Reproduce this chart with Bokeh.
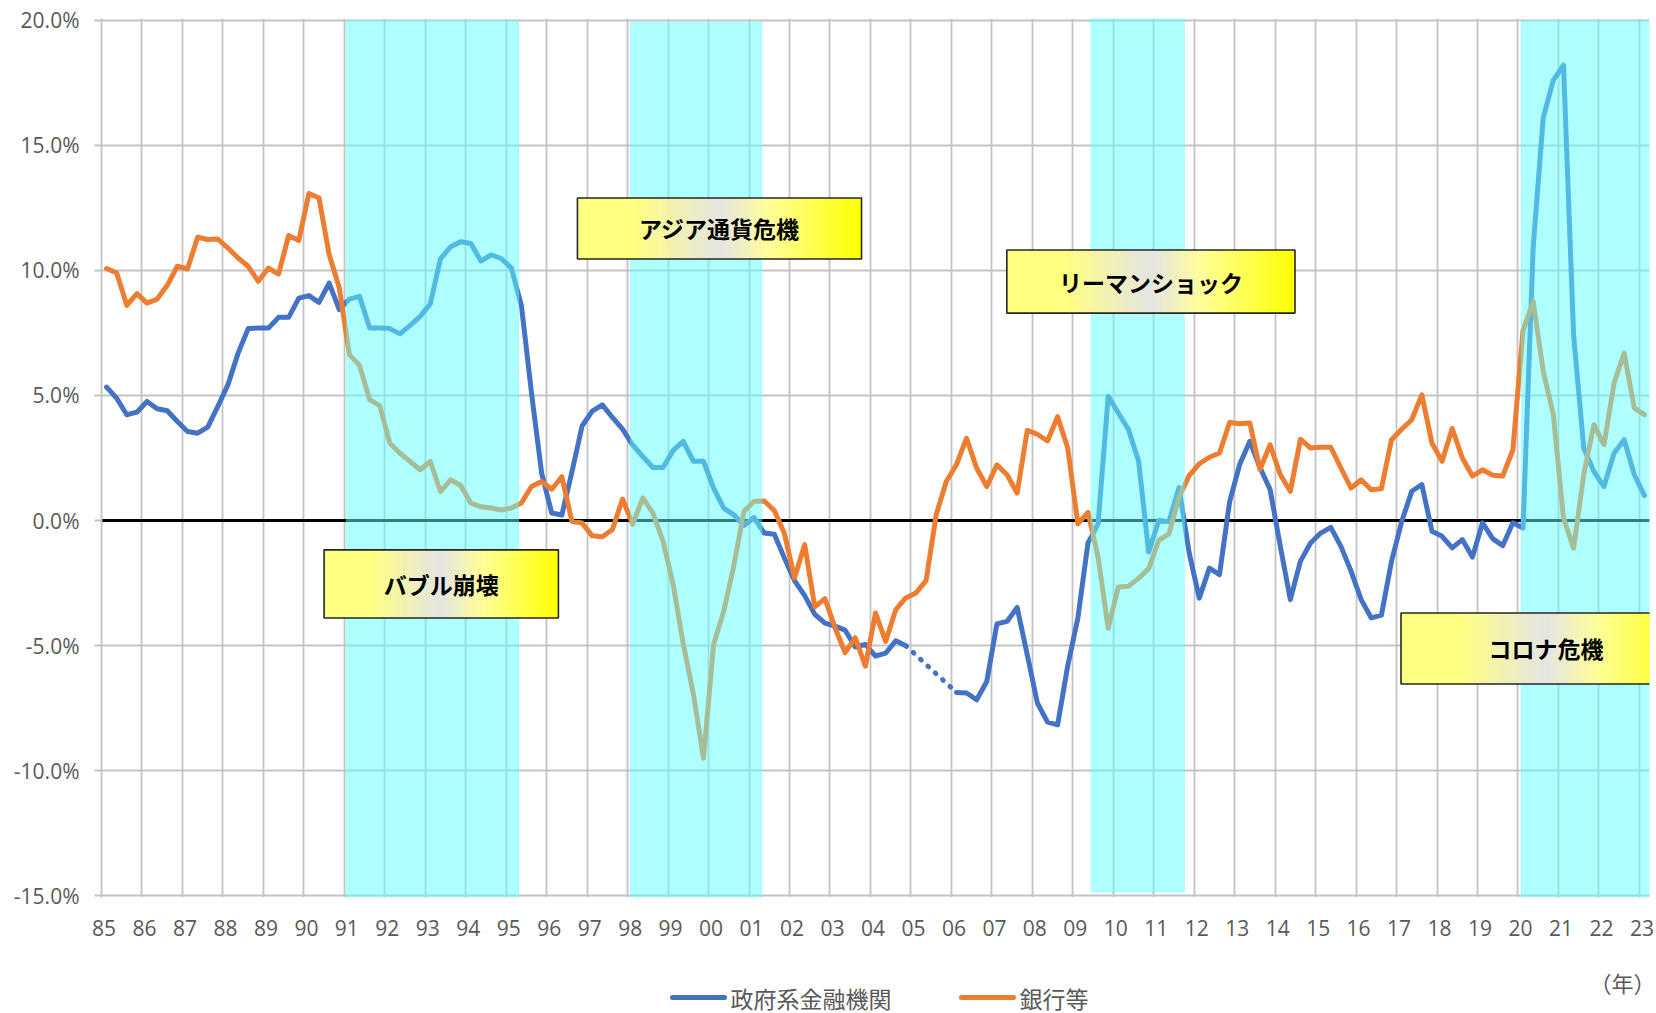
import math
from bokeh.plotting import figure
from bokeh.layouts import column
from bokeh.models import Range1d, FixedTicker, PrintfTickFormatter, Label
from bokeh.core.properties import value
from bokeh.embed import file_html
from bokeh.resources import INLINE

nan = float("nan")

# ---------------- data ----------------
years = list(range(1985, 2024))
year_labels = ["%02d" % (y % 100) for y in years]
# quarterly categories 1985Q1 .. 2023Q1 (centre of each quarter)
quarter_t = [1985 + (k + 0.5) / 4 for k in range(153)]

gov = [  # 政府系金融機関 (% y/y)
    5.33, 4.89, 4.23, 4.33,      # 85
    4.76, 4.47, 4.39, 3.96,      # 86
    3.56, 3.49, 3.73, 4.56,      # 87
    5.43, 6.69, 7.67, 7.69,      # 88
    7.69, 8.12, 8.12, 8.89,      # 89
    8.99, 8.72, 9.49, 8.43,      # 90
    8.85, 8.96, 7.69, 7.69,      # 91
    7.67, 7.46, 7.80, 8.16,      # 92
    8.66, 10.46, 10.94, 11.14,   # 93
    11.07, 10.37, 10.62, 10.47,  # 94
    10.10, 8.60, 5.10, 1.90,     # 95
    0.30, 0.22, 1.95, 3.78,      # 96
    4.37, 4.62, 4.12, 3.65,      # 97
    3.02, 2.56, 2.12, 2.12,      # 98
    2.80, 3.16, 2.37, 2.37,      # 99
    1.30, 0.50, 0.23, -0.20,     # 00
    0.12, -0.50, -0.55, -1.50,   # 01
    -2.40, -3.00, -3.75, -4.10,  # 02
    -4.22, -4.38, -5.05, -4.95,  # 03
    -5.42, -5.30, -4.80, -5.00,  # 04
    nan, nan, nan, nan,          # 05
    -6.87, -6.89, -7.16, -6.43,  # 06
    -4.13, -4.03, -3.47, -5.36,  # 07
    -7.29, -8.05, -8.16, -5.80,  # 08
    -3.90, -0.90, -0.13, 4.96,   # 09
    4.30, 3.64, 2.38, -1.26,     # 10
    0.00, -0.05, 1.32, -1.29,    # 11
    -3.10, -1.90, -2.16, 0.75,   # 12
    2.25, 3.17, 2.12, 1.24,      # 13
    -1.00, -3.16, -1.62, -0.90,  # 14
    -0.50, -0.27, -1.03, -2.02,  # 15
    -3.16, -3.89, -3.78, -1.63,  # 16
    -0.05, 1.17, 1.44, -0.43,    # 17
    -0.63, -1.09, -0.76, -1.46,  # 18
    -0.09, -0.72, -1.00, -0.09,  # 19
    -0.30, 10.90, 16.10, 17.60,  # 20
    18.20, 7.40, 2.90, 1.96,     # 21
    1.36, 2.70, 3.23, 1.83,      # 22
    1.00,                        # 23
]

bank = [  # 銀行等 (% y/y)
    10.07, 9.89, 8.60, 9.07,     # 85
    8.69, 8.85, 9.40, 10.16,     # 86
    10.05, 11.32, 11.23, 11.25,  # 87
    10.89, 10.49, 10.16, 9.56,   # 88
    10.09, 9.85, 11.39, 11.19,   # 89
    13.07, 12.89, 10.63, 9.30,   # 90
    6.63, 6.20, 4.83, 4.59,      # 91
    3.09, 2.69, 2.36, 2.03,      # 92
    2.36, 1.16, 1.63, 1.40,      # 93
    0.70, 0.55, 0.50, 0.42,      # 94
    0.50, 0.70, 1.36, 1.56,      # 95
    1.25, 1.75, -0.03, -0.10,    # 96
    -0.61, -0.65, -0.36, 0.86,   # 97
    -0.15, 0.91, 0.30, -0.82,    # 98
    -2.55, -4.93, -6.93, -9.50,  # 99
    -4.95, -3.62, -1.80, 0.37,   # 00
    0.77, 0.78, 0.40, -0.52,     # 01
    -2.29, -0.96, -3.45, -3.12,  # 02
    -4.28, -5.28, -4.68, -5.82,  # 03
    -3.69, -4.83, -3.56, -3.09,  # 04
    -2.89, -2.40, 0.24, 1.56,    # 05
    2.23, 3.29, 2.09, 1.36,      # 06
    2.23, 1.83, 1.10, 3.60,      # 07
    3.45, 3.18, 4.15, 2.90,      # 08
    -0.13, 0.33, -1.45, -4.30,   # 09
    -2.65, -2.62, -2.31, -1.92,  # 10
    -0.79, -0.53, 0.93, 1.80,    # 11
    2.27, 2.53, 2.70, 3.92,      # 12
    3.87, 3.90, 2.04, 3.03,      # 13
    1.84, 1.17, 3.25, 2.90,      # 14
    2.93, 2.93, 2.10, 1.30,      # 15
    1.63, 1.23, 1.27, 3.23,      # 16
    3.65, 4.03, 5.02, 3.09,      # 17
    2.37, 3.68, 2.50, 1.78,      # 18
    2.03, 1.81, 1.78, 2.83,      # 19
    7.60, 8.76, 5.96, 4.23,      # 20
    0.09, -1.10, 1.83, 3.83,     # 21
    3.03, 5.49, 6.69, 4.49,      # 22
    4.23,                        # 23
]

y_ticks = [-15, -10, -5, 0, 5, 10, 15, 20]
series_names = ["政府系金融機関", "銀行等"]
crisis_names = ["バブル崩壊", "アジア通貨危機", "リーマンショック", "コロナ危機"]
crisis_start = [1991.04, 1998.06, 2009.44, 2020.07]
crisis_end = [1995.32, 2001.33, 2011.77, 2023.35]

# ---------------- styles / layout ----------------
BLUE = "#4472C4"
ORANGE = "#ED7D31"
GRID = "#C3C3C3"
TXT = "#595959"
CJK = "Noto Sans CJK JP"
NUM = "Open Sans"
LW = 5

band_bottom = [-15.07, -15.08, -14.86, -15.07]
band_top = [20.0, 19.93, 20.13, 20.0]

# label boxes (x0, x1, y0, y1) in data units
box_x0 = [1990.50, 1996.76, 2007.37, 2017.11]
box_x1 = [1996.29, 2003.78, 2014.49, 2024.28]
box_y0 = [-3.89, 10.45, 8.29, -6.53]
box_y1 = [-1.17, 12.89, 10.81, -3.69]

W = 1656
H_MAIN = 945
H_FOOT = 1013 - H_MAIN
FRAME_L, FRAME_R = 101, W - 7

p = figure(width=W, height=H_MAIN, output_backend="svg", toolbar_location=None,
           x_range=Range1d(1985, 2023.25), y_range=Range1d(-15.06, 20.06),
           min_border_left=FRAME_L, min_border_right=W - FRAME_R, min_border_top=18,
           min_border_bottom=H_MAIN - 18 - 879)
p.outline_line_color = None
p.background_fill_color = "white"
p.border_fill_color = "white"

# x axis: labels in the middle of each year's first quarter
tick_pos = [y + 0.0625 for y in years]
p.xaxis.ticker = FixedTicker(ticks=tick_pos)
p.xaxis.major_label_overrides = {t: lab for t, lab in zip(tick_pos, year_labels)}
p.xaxis.axis_line_color = None
p.xaxis.major_tick_line_color = None
p.xaxis.minor_tick_line_color = None
p.xaxis.major_label_standoff = 16
p.xaxis.major_label_text_font = NUM
p.xaxis.major_label_text_font_size = "21px"
p.xaxis.major_label_text_color = TXT

p.xgrid.ticker = FixedTicker(ticks=years)
p.xgrid.grid_line_color = GRID
p.xgrid.grid_line_width = 1.8

p.yaxis.ticker = FixedTicker(ticks=y_ticks)
p.yaxis.formatter = PrintfTickFormatter(format="%.1f%%")
p.yaxis.axis_line_color = GRID
p.yaxis.axis_line_width = 1.8
p.yaxis.major_tick_line_color = GRID
p.yaxis.major_tick_line_width = 1.8
p.yaxis.major_tick_out = 7
p.yaxis.major_tick_in = 0
p.yaxis.minor_tick_line_color = None
p.yaxis.major_label_standoff = 15
p.yaxis.major_label_text_font = NUM
p.yaxis.major_label_text_font_size = "21px"
p.yaxis.major_label_text_color = TXT
p.ygrid.grid_line_color = GRID
p.ygrid.grid_line_width = 1.8

# zero line
p.hspan(y=[0], line_color="black", line_width=3)

# series
r_gov = p.line(quarter_t, gov, line_color=BLUE, line_width=LW, line_join="round", line_cap="round")
# dotted connector over the missing 2005 data
gap = [i for i, v in enumerate(gov) if isinstance(v, float) and math.isnan(v)]
i0, i1 = gap[0] - 1, gap[-1] + 1
p.line([quarter_t[i0], quarter_t[i1]], [gov[i0], gov[i1]], line_color=BLUE,
       line_width=LW, line_dash="1 9", line_cap="round")
r_bank = p.line(quarter_t, bank, line_color=ORANGE, line_width=LW, line_join="round", line_cap="round")

# crisis bands (translucent overlay on top of the lines)
p.quad(left=crisis_start, right=crisis_end, bottom=band_bottom, top=band_top,
       fill_color="#5EFFFF", fill_alpha=0.5, line_color=None)

# yellow gradient label boxes
stops = [(0.0, (255, 255, 128)), (0.2, (255, 255, 128)), (0.5, (228, 228, 228)),
         (0.68, (255, 255, 150)), (1.0, (255, 255, 0))]


def grad(f):
    for (f0, c0), (f1, c1) in zip(stops, stops[1:]):
        if f <= f1:
            u = (f - f0) / (f1 - f0) if f1 > f0 else 0.0
            return "#%02x%02x%02x" % tuple(int(round(a + (b - a) * u)) for a, b in zip(c0, c1))
    return "#ffff00"


N = 80
for k in range(len(crisis_names)):
    x0, x1, y0, y1 = box_x0[k], box_x1[k], box_y0[k], box_y1[k]
    w = (x1 - x0) / N
    lefts = [x0 + j * w for j in range(N)]
    rights = [min(x1, x0 + (j + 1.6) * w) for j in range(N)]
    cols = [grad((j + 0.5) / N) for j in range(N)]
    p.quad(left=lefts, right=rights, bottom=[y0] * N, top=[y1] * N,
           fill_color=cols, line_color=None)
    p.quad(left=[x0], right=[x1], bottom=[y0], top=[y1], fill_color=None,
           line_color="#262626", line_width=1.6)
    p.text(x=[(x0 + x1) / 2], y=[(y0 + y1) / 2], text=[crisis_names[k]],
           text_font=value(CJK), text_font_style="bold", text_font_size="23px",
           text_color="black", text_align="center", text_baseline="middle")

# ---------------- footer: unit label and legend (page-pixel coordinates) ----------------
# the column layout aligns this frame with the main plot frame, so map x to page pixels
f = figure(width=W, height=H_FOOT, output_backend="svg", toolbar_location=None,
           x_range=Range1d(FRAME_L, FRAME_R), y_range=Range1d(0, H_FOOT),
           x_axis_type=None, y_axis_type=None,
           min_border_left=FRAME_L, min_border_right=W - FRAME_R,
           min_border_top=0, min_border_bottom=0)
f.grid.visible = False
f.outline_line_color = None
f.add_layout(Label(x=1622, y=H_FOOT - 36, text="（年）", text_font=CJK,
                   text_font_size="22px", text_color=TXT,
                   text_align="center", text_baseline="middle"))

legend_y = 16
swatch_x = [672, 961]
swatch_w = 52
series_colors = [BLUE, ORANGE]
f.segment(x0=swatch_x, x1=[x + swatch_w for x in swatch_x], y0=[legend_y] * 2,
          y1=[legend_y] * 2, line_color=series_colors, line_width=LW, line_cap="round")
f.text(x=[x + swatch_w + 6 for x in swatch_x], y=[legend_y] * 2, text=series_names,
       text_font=value(CJK), text_font_size="23px", text_color=TXT,
       text_align="left", text_baseline="middle")

layout = column(p, f, spacing=0)
open("out.html", "w").write(file_html(layout, INLINE))
